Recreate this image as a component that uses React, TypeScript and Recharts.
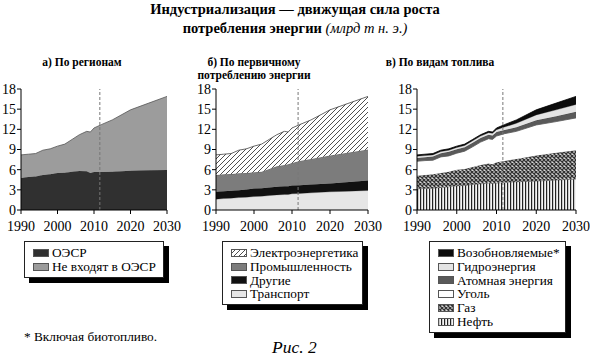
import { Area, AreaChart, ReferenceLine, XAxis, YAxis } from "recharts";

const YEARS = [1990, 1992, 1994, 1996, 1998, 2000, 2002, 2004, 2006, 2008, 2009, 2010, 2012, 2015, 2020, 2025, 2030];

// а) по регионам
const OECD = [4.75, 4.9, 5.0, 5.2, 5.3, 5.5, 5.55, 5.7, 5.8, 5.75, 5.5, 5.65, 5.65, 5.7, 5.85, 5.9, 5.95];
const NON_OECD = [3.45, 3.4, 3.4, 3.7, 3.8, 4.0, 4.25, 4.8, 5.4, 5.95, 6.1, 6.55, 7.05, 7.7, 9.05, 10.0, 10.95];

// б) по первичному потреблению
const TRANSPORT = [1.6, 1.7, 1.75, 1.85, 1.9, 2.0, 2.05, 2.15, 2.25, 2.3, 2.3, 2.4, 2.45, 2.55, 2.7, 2.8, 2.9];
const OTHER = [1.1, 1.1, 1.1, 1.1, 1.15, 1.2, 1.2, 1.2, 1.2, 1.25, 1.25, 1.25, 1.25, 1.25, 1.25, 1.35, 1.5];
const INDUSTRY = [2.5, 2.5, 2.5, 2.5, 2.45, 2.4, 2.45, 2.75, 3.05, 3.15, 3.25, 3.35, 3.6, 3.8, 4.15, 4.4, 4.6];
const POWER = [3.0, 3.0, 3.05, 3.45, 3.6, 3.9, 4.1, 4.4, 4.7, 5.0, 4.8, 5.2, 5.4, 5.8, 6.8, 7.35, 7.9];

// в) по видам топлива
const OIL = [3.15, 3.2, 3.25, 3.35, 3.45, 3.6, 3.65, 3.8, 3.9, 4.0, 3.95, 4.0, 4.1, 4.2, 4.3, 4.45, 4.6];
const GAS = [1.95, 2.0, 2.05, 2.15, 2.25, 2.4, 2.45, 2.6, 2.8, 2.9, 2.85, 3.1, 3.2, 3.4, 3.8, 4.05, 4.3];
const COAL = [2.15, 2.15, 2.1, 2.4, 2.35, 2.45, 2.65, 3.0, 3.4, 3.7, 3.7, 3.9, 4.05, 4.1, 4.55, 4.65, 4.8];
const NUCLEAR = [0.5, 0.5, 0.55, 0.55, 0.6, 0.6, 0.6, 0.6, 0.6, 0.6, 0.6, 0.6, 0.55, 0.6, 0.7, 0.8, 0.9];
const HYDRO = [0.25, 0.25, 0.25, 0.25, 0.25, 0.25, 0.25, 0.3, 0.3, 0.3, 0.3, 0.35, 0.45, 0.6, 0.8, 0.95, 1.1];
const RENEW = [0.2, 0.2, 0.2, 0.2, 0.2, 0.2, 0.2, 0.2, 0.2, 0.2, 0.2, 0.25, 0.35, 0.5, 0.75, 1.0, 1.2];

const X_TICKS = [1990, 2000, 2010, 2020, 2030];
const Y_TICKS = [0, 3, 6, 9, 12, 15, 18];
const DIVIDER = 2011.6;

const regionData = YEARS.map((y, i) => ({ year: y, oecd: OECD[i], non: NON_OECD[i] }));
const useData = YEARS.map((y, i) => ({
  year: y,
  transport: TRANSPORT[i],
  other: OTHER[i],
  industry: INDUSTRY[i],
  power: POWER[i],
}));
const fuelData = YEARS.map((y, i) => ({
  year: y,
  oil: OIL[i],
  gas: GAS[i],
  coal: COAL[i],
  nuclear: NUCLEAR[i],
  hydro: HYDRO[i],
  renew: RENEW[i],
}));

const SERIF = "Liberation Serif, Times New Roman, DejaVu Serif, Noto Serif, Tinos, FreeSerif, serif";

function Patterns() {
  return (
    <svg width={0} height={0} style={{ position: "absolute" }}>
      <defs>
        <pattern id="hatch" patternUnits="userSpaceOnUse" width={5} height={5}>
          <rect width={5} height={5} fill="#fff" />
          <path d="M0,5 L5,0 M-1,1 L1,-1 M4,6 L6,4" stroke="#222" strokeWidth={0.8} />
        </pattern>
        <pattern id="stripes" patternUnits="userSpaceOnUse" width={3} height={3}>
          <rect width={3} height={3} fill="#f4f4f4" />
          <rect width={1.2} height={3} fill="#222" />
        </pattern>
        <pattern id="cross" patternUnits="userSpaceOnUse" width={4} height={4}>
          <rect width={4} height={4} fill="#d8d8d8" />
          <path d="M0,0 L4,4 M4,0 L0,4" stroke="#333" strokeWidth={1.3} />
        </pattern>
      </defs>
    </svg>
  );
}

const tick = { fill: "#000", fontSize: 14, fontFamily: SERIF };

function axes() {
  return [
    <XAxis
      key="x"
      dataKey="year"
      type="number"
      domain={[1990, 2030]}
      ticks={X_TICKS}
      tick={tick}
      tickSize={4}
      tickMargin={7}
      height={30}
      stroke="#000"
    />,
    <YAxis
      key="y"
      domain={[0, 18]}
      ticks={Y_TICKS}
      tick={tick}
      tickSize={4}
      tickMargin={1}
      width={21}
      stroke="#000"
      interval={0}
    />,
  ];
}

function divider() {
  return <ReferenceLine x={DIVIDER} stroke="#777" strokeDasharray="3 2" strokeWidth={1} ifOverflow="visible" />;
}

function Legend({
  left,
  top,
  width,
  items,
}: {
  left: number;
  top: number;
  width: number;
  items: { label: string; fill: string }[];
}) {
  return (
    <div
      style={{
        position: "absolute",
        left,
        top,
        width,
        boxSizing: "border-box",
        border: "1px solid #222",
        background: "#fff",
        boxShadow: "5px 5px 0 #000",
        padding: "4px 0 3px 8px",
        fontFamily: SERIF,
        fontSize: 13.3,
        lineHeight: "13.8px",
      }}
    >
      {items.map((it) => (
        <div key={it.label} style={{ display: "flex", alignItems: "center", whiteSpace: "nowrap" }}>
          <svg width={16} height={8} style={{ marginRight: 3, flex: "none" }}>
            <rect x={0.5} y={0.5} width={15} height={7} fill={it.fill} stroke="#555" strokeWidth={1} />
          </svg>
          {it.label}
        </div>
      ))}
    </div>
  );
}

const panelTitle = {
  position: "absolute" as const,
  fontFamily: SERIF,
  fontWeight: 700,
  fontSize: 11.5,
  textAlign: "center" as const,
  lineHeight: "13px",
  whiteSpace: "nowrap" as const,
};

export default function App() {
  return (
    <div style={{ position: "relative", width: 590, height: 357, background: "#fff", overflow: "hidden" }}>
      <style>{`body{margin:0}`}</style>
      <Patterns />

      <div
        style={{
          position: "absolute",
          left: 0,
          top: 0,
          width: 590,
          textAlign: "center",
          fontFamily: SERIF,
          fontWeight: 700,
          fontSize: 14.5,
          lineHeight: "19px",
        }}
      >
        Индустриализация — движущая сила роста
        <br />
        потребления энергии <span style={{ fontStyle: "italic", fontWeight: 400 }}>(млрд т н. э.)</span>
      </div>

      <div style={{ ...panelTitle, left: 2, width: 160, top: 56 }}>а) По регионам</div>
      <div style={{ ...panelTitle, left: 194, width: 120, top: 56 }}>
        б) По первичному
        <br />
        потреблению энергии
      </div>
      <div style={{ ...panelTitle, left: 380, width: 120, top: 56 }}>в) По видам топлива</div>

      <div style={{ position: "absolute", left: 0, top: 80 }}>
        <AreaChart width={195} height={160} data={regionData} margin={{ top: 9, right: 28, left: 0, bottom: 0 }}>
          {axes()}
          <Area type="linear" dataKey="oecd" stackId="a" fill="#303030" fillOpacity={1} stroke="#303030" strokeWidth={0.8} isAnimationActive={false} />
          <Area type="linear" dataKey="non" stackId="a" fill="#9c9c9c" fillOpacity={1} stroke="#555" strokeWidth={0.8} isAnimationActive={false} />
          {divider()}
        </AreaChart>
      </div>

      <div style={{ position: "absolute", left: 195, top: 80 }}>
        <AreaChart width={195} height={160} data={useData} margin={{ top: 9, right: 22, left: 0, bottom: 0 }}>
          {axes()}
          <Area type="linear" dataKey="transport" stackId="b" fill="#e6e6e6" fillOpacity={1} stroke="#999" strokeWidth={0.6} isAnimationActive={false} />
          <Area type="linear" dataKey="other" stackId="b" fill="#111" fillOpacity={1} stroke="#111" strokeWidth={0.6} isAnimationActive={false} />
          <Area type="linear" dataKey="industry" stackId="b" fill="#7c7c7c" fillOpacity={1} stroke="#555" strokeWidth={0.6} isAnimationActive={false} />
          <Area type="linear" dataKey="power" stackId="b" fill="url(#hatch)" fillOpacity={1} stroke="#444" strokeWidth={0.8} isAnimationActive={false} />
          {divider()}
        </AreaChart>
      </div>

      <div style={{ position: "absolute", left: 396, top: 80 }}>
        <AreaChart width={194} height={160} data={fuelData} margin={{ top: 9, right: 14, left: 0, bottom: 0 }}>
          {axes()}
          <Area type="linear" dataKey="oil" stackId="c" fill="url(#stripes)" fillOpacity={1} stroke="#444" strokeWidth={0.5} isAnimationActive={false} />
          <Area type="linear" dataKey="gas" stackId="c" fill="url(#cross)" fillOpacity={1} stroke="#444" strokeWidth={0.6} isAnimationActive={false} />
          <Area type="linear" dataKey="coal" stackId="c" fill="#fff" fillOpacity={1} stroke="#555" strokeWidth={0.8} isAnimationActive={false} />
          <Area type="linear" dataKey="nuclear" stackId="c" fill="#595959" fillOpacity={1} stroke="#444" strokeWidth={0.6} isAnimationActive={false} />
          <Area type="linear" dataKey="hydro" stackId="c" fill="#e4e4e4" fillOpacity={1} stroke="#777" strokeWidth={0.6} isAnimationActive={false} />
          <Area type="linear" dataKey="renew" stackId="c" fill="#0c0c0c" fillOpacity={1} stroke="#000" strokeWidth={0.8} isAnimationActive={false} />
          {divider()}
        </AreaChart>
      </div>

      <Legend
        left={24}
        top={241}
        width={140}
        items={[
          { label: "ОЭСР", fill: "#303030" },
          { label: "Не входят в ОЭСР", fill: "#9c9c9c" },
        ]}
      />
      <Legend
        left={222}
        top={241}
        width={141}
        items={[
          { label: "Электроэнергетика", fill: "url(#hatch)" },
          { label: "Промышленность", fill: "#7c7c7c" },
          { label: "Другие", fill: "#111" },
          { label: "Транспорт", fill: "#e6e6e6" },
        ]}
      />
      <Legend
        left={429}
        top={241}
        width={137}
        items={[
          { label: "Возобновляемые*", fill: "#0c0c0c" },
          { label: "Гидроэнергия", fill: "#e4e4e4" },
          { label: "Атомная энергия", fill: "#595959" },
          { label: "Уголь", fill: "#fff" },
          { label: "Газ", fill: "url(#cross)" },
          { label: "Нефть", fill: "url(#stripes)" },
        ]}
      />

      <div style={{ position: "absolute", left: 24, top: 329, fontFamily: SERIF, fontSize: 13.3 }}>
        * Включая биотопливо.
      </div>
      <div style={{ position: "absolute", left: 272, top: 337, fontFamily: SERIF, fontSize: 17.5, fontStyle: "italic" }}>
        Рис. 2
      </div>
    </div>
  );
}
